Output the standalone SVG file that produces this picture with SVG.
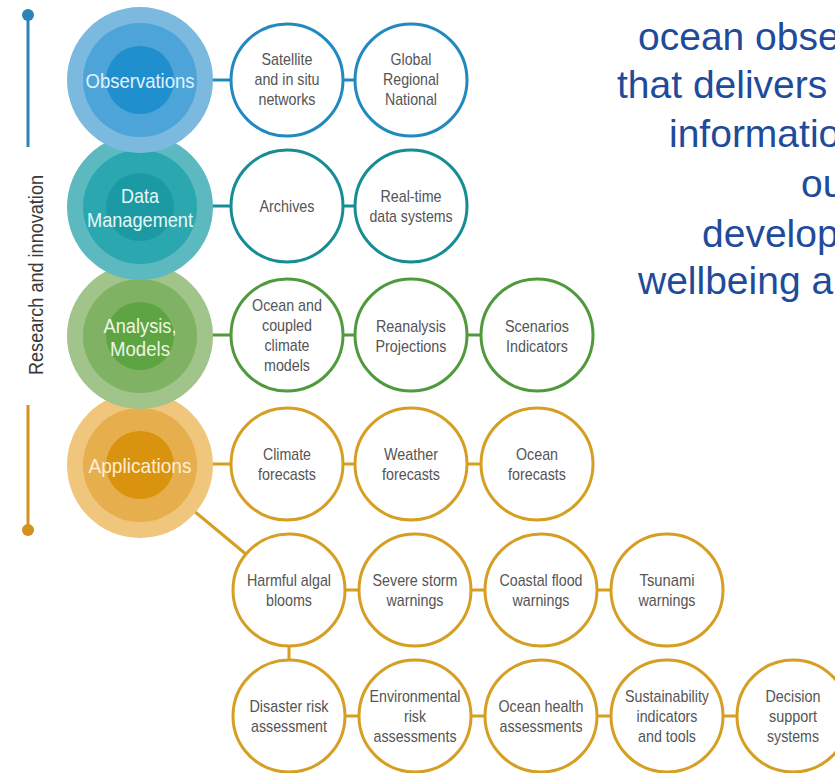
<svg xmlns="http://www.w3.org/2000/svg" width="835" height="773" viewBox="0 0 835 773">
<style>
.sc{fill:#fff;stroke-width:3}
.obs{stroke:#2189c0}
.dat{stroke:#168d95}
.ana{stroke:#4f9a3c}
.app{stroke:#d69e22}
.t{font-family:"Liberation Sans",Arial,sans-serif;font-size:17px;fill:#555;text-anchor:middle}
.big{font-family:"Liberation Sans",Arial,sans-serif;font-size:21px;text-anchor:middle}
.rt{font-family:"Liberation Sans",Arial,sans-serif;font-size:39px;fill:#1f4b9b}
.cn{stroke-width:3;fill:none}
</style>
<rect width="835" height="773" fill="#fff"/>

<g id="timeline">
<line x1="28" y1="15" x2="28" y2="147" stroke="#2a84b6" stroke-width="3"/>
<circle cx="28" cy="15" r="6" fill="#2a84b6"/>
<line x1="28" y1="405" x2="28" y2="530" stroke="#d4911c" stroke-width="3"/>
<circle cx="28" cy="530" r="6" fill="#d4911c"/>
<text transform="translate(43,375) rotate(-90)" font-family="Liberation Sans,Arial,sans-serif" font-size="21" fill="#3a3a3a" textLength="200" lengthAdjust="spacingAndGlyphs">Research and innovation</text>
</g>

<g id="connectors">
<line class="cn obs" x1="212" y1="80" x2="232" y2="80"/>
<line class="cn obs" x1="343" y1="80" x2="356" y2="80"/>
<line class="cn dat" x1="212" y1="206" x2="232" y2="206"/>
<line class="cn dat" x1="343" y1="206" x2="356" y2="206"/>
<line class="cn ana" x1="212" y1="335" x2="232" y2="335"/>
<line class="cn ana" x1="343" y1="335" x2="356" y2="335"/>
<line class="cn ana" x1="467" y1="335" x2="482" y2="335"/>
<line class="cn app" x1="212" y1="464" x2="232" y2="464"/>
<line class="cn app" x1="343" y1="464" x2="356" y2="464"/>
<line class="cn app" x1="467" y1="464" x2="482" y2="464"/>
<line class="cn app" x1="194" y1="511" x2="247" y2="555"/>
<line class="cn app" x1="345" y1="590" x2="360" y2="590"/>
<line class="cn app" x1="471" y1="590" x2="486" y2="590"/>
<line class="cn app" x1="597" y1="590" x2="612" y2="590"/>
<line class="cn app" x1="289" y1="645" x2="289" y2="661"/>
<line class="cn app" x1="345" y1="716" x2="360" y2="716"/>
<line class="cn app" x1="471" y1="716" x2="486" y2="716"/>
<line class="cn app" x1="597" y1="716" x2="612" y2="716"/>
<line class="cn app" x1="723" y1="716" x2="738" y2="716"/>
</g>

<g id="applications">
<circle cx="140" cy="465" r="73" fill="#efc67c"/>
<circle cx="140" cy="465" r="57" fill="#e6ae4c"/>
<circle cx="140" cy="465" r="34" fill="#d9930f"/>
<text class="big" x="140" y="473" fill="#fcefd6" textLength="103" lengthAdjust="spacingAndGlyphs">Applications</text>
</g>
<g id="analysis">
<circle cx="140" cy="336" r="73" fill="#a0c48a"/>
<circle cx="140" cy="336" r="57" fill="#7fb262"/>
<circle cx="140" cy="336" r="34" fill="#5ea443"/>
<text class="big" x="140" y="333" fill="#eef6e6" textLength="73" lengthAdjust="spacingAndGlyphs">Analysis,</text>
<text class="big" x="140" y="356" fill="#eef6e6" textLength="60" lengthAdjust="spacingAndGlyphs">Models</text>
</g>
<g id="data-management">
<circle cx="140" cy="207" r="73" fill="#5cb9bf"/>
<circle cx="140" cy="207" r="57" fill="#2ba7af"/>
<circle cx="140" cy="207" r="34" fill="#1b9aa3"/>
<text class="big" x="140" y="203" fill="#e8f7f7" textLength="38" lengthAdjust="spacingAndGlyphs">Data</text>
<text class="big" x="140" y="227" fill="#e8f7f7" textLength="106" lengthAdjust="spacingAndGlyphs">Management</text>
</g>
<g id="observations">
<circle cx="140" cy="80" r="73" fill="#7cb9de"/>
<circle cx="140" cy="80" r="57" fill="#4ca4d8"/>
<circle cx="140" cy="80" r="34" fill="#1f90cd"/>
<text class="big" x="140" y="88" fill="#e4f2fb" textLength="109" lengthAdjust="spacingAndGlyphs">Observations</text>
</g>

<g id="satellite"><circle class="sc obs" cx="287" cy="80" r="56"/>
<text class="t" x="287" y="65" textLength="51" lengthAdjust="spacingAndGlyphs">Satellite</text><text class="t" x="287" y="85" textLength="65" lengthAdjust="spacingAndGlyphs">and in situ</text><text class="t" x="287" y="105" textLength="57" lengthAdjust="spacingAndGlyphs">networks</text></g>
<g id="global"><circle class="sc obs" cx="411" cy="80" r="56"/>
<text class="t" x="411" y="65" textLength="41" lengthAdjust="spacingAndGlyphs">Global</text><text class="t" x="411" y="85" textLength="56" lengthAdjust="spacingAndGlyphs">Regional</text><text class="t" x="411" y="105" textLength="52" lengthAdjust="spacingAndGlyphs">National</text></g>

<g id="archives"><circle class="sc dat" cx="287" cy="206" r="56"/>
<text class="t" x="287" y="212" textLength="55" lengthAdjust="spacingAndGlyphs">Archives</text></g>
<g id="realtime"><circle class="sc dat" cx="411" cy="206" r="56"/>
<text class="t" x="411" y="202" textLength="61" lengthAdjust="spacingAndGlyphs">Real-time</text><text class="t" x="411" y="222" textLength="83" lengthAdjust="spacingAndGlyphs">data systems</text></g>

<g id="ocean-models"><circle class="sc ana" cx="287" cy="335" r="56"/>
<text class="t" x="287" y="311" textLength="70" lengthAdjust="spacingAndGlyphs">Ocean and</text><text class="t" x="287" y="331" textLength="50" lengthAdjust="spacingAndGlyphs">coupled</text><text class="t" x="287" y="351" textLength="45" lengthAdjust="spacingAndGlyphs">climate</text><text class="t" x="287" y="371" textLength="46" lengthAdjust="spacingAndGlyphs">models</text></g>
<g id="reanalysis"><circle class="sc ana" cx="411" cy="335" r="56"/>
<text class="t" x="411" y="332" textLength="70" lengthAdjust="spacingAndGlyphs">Reanalysis</text><text class="t" x="411" y="352" textLength="71" lengthAdjust="spacingAndGlyphs">Projections</text></g>
<g id="scenarios"><circle class="sc ana" cx="537" cy="335" r="56"/>
<text class="t" x="537" y="332" textLength="64" lengthAdjust="spacingAndGlyphs">Scenarios</text><text class="t" x="537" y="352" textLength="62" lengthAdjust="spacingAndGlyphs">Indicators</text></g>

<g id="climate"><circle class="sc app" cx="287" cy="464" r="56"/>
<text class="t" x="287" y="460" textLength="48" lengthAdjust="spacingAndGlyphs">Climate</text><text class="t" x="287" y="480" textLength="58" lengthAdjust="spacingAndGlyphs">forecasts</text></g>
<g id="weather"><circle class="sc app" cx="411" cy="464" r="56"/>
<text class="t" x="411" y="460" textLength="54" lengthAdjust="spacingAndGlyphs">Weather</text><text class="t" x="411" y="480" textLength="58" lengthAdjust="spacingAndGlyphs">forecasts</text></g>
<g id="ocean-forecasts"><circle class="sc app" cx="537" cy="464" r="56"/>
<text class="t" x="537" y="460" textLength="42" lengthAdjust="spacingAndGlyphs">Ocean</text><text class="t" x="537" y="480" textLength="58" lengthAdjust="spacingAndGlyphs">forecasts</text></g>

<g id="harmful"><circle class="sc app" cx="289" cy="590" r="56"/>
<text class="t" x="289" y="586" textLength="84" lengthAdjust="spacingAndGlyphs">Harmful algal</text><text class="t" x="289" y="606" textLength="46" lengthAdjust="spacingAndGlyphs">blooms</text></g>
<g id="storm"><circle class="sc app" cx="415" cy="590" r="56"/>
<text class="t" x="415" y="586" textLength="85" lengthAdjust="spacingAndGlyphs">Severe storm</text><text class="t" x="415" y="606" textLength="57" lengthAdjust="spacingAndGlyphs">warnings</text></g>
<g id="coastal"><circle class="sc app" cx="541" cy="590" r="56"/>
<text class="t" x="541" y="586" textLength="83" lengthAdjust="spacingAndGlyphs">Coastal flood</text><text class="t" x="541" y="606" textLength="57" lengthAdjust="spacingAndGlyphs">warnings</text></g>
<g id="tsunami"><circle class="sc app" cx="667" cy="590" r="56"/>
<text class="t" x="667" y="586" textLength="55" lengthAdjust="spacingAndGlyphs">Tsunami</text><text class="t" x="667" y="606" textLength="57" lengthAdjust="spacingAndGlyphs">warnings</text></g>

<g id="disaster"><circle class="sc app" cx="289" cy="716" r="56"/>
<text class="t" x="289" y="712" textLength="79" lengthAdjust="spacingAndGlyphs">Disaster risk</text><text class="t" x="289" y="732" textLength="76" lengthAdjust="spacingAndGlyphs">assessment</text></g>
<g id="environmental"><circle class="sc app" cx="415" cy="716" r="56"/>
<text class="t" x="415" y="702" textLength="91" lengthAdjust="spacingAndGlyphs">Environmental</text><text class="t" x="415" y="722" textLength="22" lengthAdjust="spacingAndGlyphs">risk</text><text class="t" x="415" y="742" textLength="83" lengthAdjust="spacingAndGlyphs">assessments</text></g>
<g id="ocean-health"><circle class="sc app" cx="541" cy="716" r="56"/>
<text class="t" x="541" y="712" textLength="85" lengthAdjust="spacingAndGlyphs">Ocean health</text><text class="t" x="541" y="732" textLength="83" lengthAdjust="spacingAndGlyphs">assessments</text></g>
<g id="sustainability"><circle class="sc app" cx="667" cy="716" r="56"/>
<text class="t" x="667" y="702" textLength="84" lengthAdjust="spacingAndGlyphs">Sustainability</text><text class="t" x="667" y="722" textLength="61" lengthAdjust="spacingAndGlyphs">indicators</text><text class="t" x="667" y="742" textLength="58" lengthAdjust="spacingAndGlyphs">and tools</text></g>
<g id="decision"><circle class="sc app" cx="793" cy="716" r="56"/>
<text class="t" x="793" y="702" textLength="55" lengthAdjust="spacingAndGlyphs">Decision</text><text class="t" x="793" y="722" textLength="48" lengthAdjust="spacingAndGlyphs">support</text><text class="t" x="793" y="742" textLength="52" lengthAdjust="spacingAndGlyphs">systems</text></g>

<g id="statement">
<text class="rt" x="638" y="50">ocean obse</text>
<text class="rt" x="617" y="98">that delivers</text>
<text class="rt" x="669" y="147">informatio</text>
<text class="rt" x="801" y="197">ou</text>
<text class="rt" x="702" y="247">develop</text>
<text class="rt" x="638" y="294">wellbeing a</text>
</g>
</svg>
